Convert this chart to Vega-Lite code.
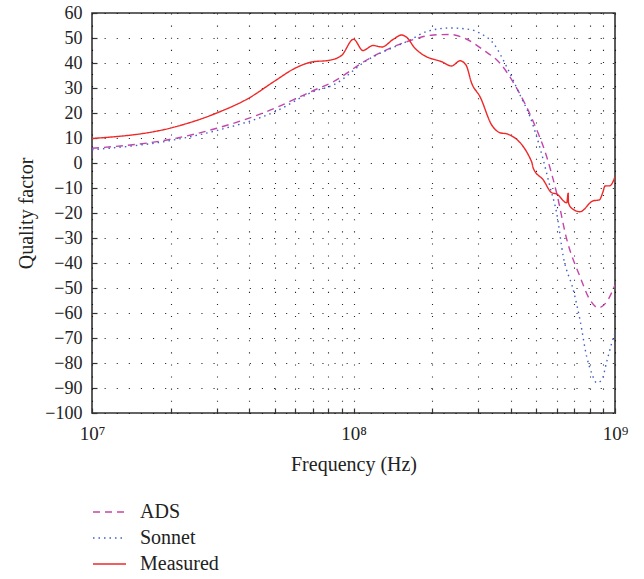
{
  "$schema": "https://vega.github.io/schema/vega-lite/v6.json",
  "width": 523,
  "height": 400,
  "autosize": {"type": "none"},
  "padding": {"left": 92, "top": 13, "right": 29, "bottom": 166},
  "background": "white",
  "config": {
    "view": {"stroke": "#333333", "strokeWidth": 1.6},
    "font": "Liberation Serif",
    "axis": {
      "labelFont": "Liberation Serif",
      "titleFont": "Liberation Serif",
      "labelFontSize": 18,
      "titleFontSize": 20,
      "titleFontWeight": "normal",
      "labelColor": "#222222",
      "titleColor": "#222222",
      "domain": false,
      "tickColor": "#333333",
      "tickWidth": 1.2,
      "tickSize": -5,
      "gridColor": "#000000",
      "gridOpacity": 0.85,
      "gridWidth": 1.1,
      "gridDash": [1.1, 11]
    }
  },
  "data": {
    "values": [
      {"f": 1e7, "q": 5.9, "s": "ADS"},
      {"f": 2e7, "q": 9.5, "s": "ADS"},
      {"f": 3e7, "q": 13.9, "s": "ADS"},
      {"f": 5e7, "q": 21.9, "s": "ADS"},
      {"f": 6.24e7, "q": 26.5, "s": "ADS"},
      {"f": 7e7, "q": 28.9, "s": "ADS"},
      {"f": 8.37e7, "q": 32.5, "s": "ADS"},
      {"f": 1.123e8, "q": 41.2, "s": "ADS"},
      {"f": 1.597e8, "q": 48.5, "s": "ADS"},
      {"f": 2.019e8, "q": 51.2, "s": "ADS"},
      {"f": 2.339e8, "q": 51.4, "s": "ADS"},
      {"f": 2.71e8, "q": 49.5, "s": "ADS"},
      {"f": 3.136e8, "q": 45.2, "s": "ADS"},
      {"f": 3.633e8, "q": 39.9, "s": "ADS"},
      {"f": 4.208e8, "q": 29.9, "s": "ADS"},
      {"f": 4.871e8, "q": 16.5, "s": "ADS"},
      {"f": 5.48e8, "q": 2.5, "s": "ADS"},
      {"f": 5.985e8, "q": -12.1, "s": "ADS"},
      {"f": 6.537e8, "q": -30.5, "s": "ADS"},
      {"f": 7.349e8, "q": -45.5, "s": "ADS"},
      {"f": 8.026e8, "q": -54.8, "s": "ADS"},
      {"f": 8.632e8, "q": -57.9, "s": "ADS"},
      {"f": 9.297e8, "q": -55.5, "s": "ADS"},
      {"f": 1e9, "q": -48.8, "s": "ADS"},

      {"f": 1e7, "q": 5.3, "s": "Sonnet"},
      {"f": 2e7, "q": 9.0, "s": "Sonnet"},
      {"f": 3e7, "q": 13.0, "s": "Sonnet"},
      {"f": 5e7, "q": 20.5, "s": "Sonnet"},
      {"f": 7e7, "q": 28.5, "s": "Sonnet"},
      {"f": 8.37e7, "q": 31.2, "s": "Sonnet"},
      {"f": 1.123e8, "q": 41.0, "s": "Sonnet"},
      {"f": 1.644e8, "q": 49.2, "s": "Sonnet"},
      {"f": 1.905e8, "q": 52.6, "s": "Sonnet"},
      {"f": 2.339e8, "q": 54.0, "s": "Sonnet"},
      {"f": 2.79e8, "q": 53.4, "s": "Sonnet"},
      {"f": 3.046e8, "q": 51.9, "s": "Sonnet"},
      {"f": 3.424e8, "q": 47.9, "s": "Sonnet"},
      {"f": 3.853e8, "q": 38.5, "s": "Sonnet"},
      {"f": 4.332e8, "q": 27.2, "s": "Sonnet"},
      {"f": 4.732e8, "q": 18.5, "s": "Sonnet"},
      {"f": 5.019e8, "q": 10.5, "s": "Sonnet"},
      {"f": 5.318e8, "q": 1.2, "s": "Sonnet"},
      {"f": 5.641e8, "q": -9.5, "s": "Sonnet"},
      {"f": 5.985e8, "q": -20.1, "s": "Sonnet"},
      {"f": 6.344e8, "q": -37.5, "s": "Sonnet"},
      {"f": 6.926e8, "q": -50.8, "s": "Sonnet"},
      {"f": 7.349e8, "q": -62.8, "s": "Sonnet"},
      {"f": 7.795e8, "q": -77.5, "s": "Sonnet"},
      {"f": 8.146e8, "q": -84.1, "s": "Sonnet"},
      {"f": 8.511e8, "q": -87.9, "s": "Sonnet"},
      {"f": 8.894e8, "q": -86.8, "s": "Sonnet"},
      {"f": 9.297e8, "q": -79.5, "s": "Sonnet"},
      {"f": 9.714e8, "q": -72.1, "s": "Sonnet"},
      {"f": 1e9, "q": -68.1, "s": "Sonnet"},

      {"f": 1e7, "q": 9.8, "s": "Measured"},
      {"f": 2e7, "q": 14.0, "s": "Measured"},
      {"f": 3e7, "q": 20.0, "s": "Measured"},
      {"f": 3.985e7, "q": 26.0, "s": "Measured"},
      {"f": 5e7, "q": 32.8, "s": "Measured"},
      {"f": 6e7, "q": 38.0, "s": "Measured"},
      {"f": 7e7, "q": 40.5, "s": "Measured"},
      {"f": 8e7, "q": 41.0, "s": "Measured"},
      {"f": 9e7, "q": 43.0, "s": "Measured"},
      {"f": 1e8, "q": 49.5, "s": "Measured"},
      {"f": 1.087e8, "q": 45.0, "s": "Measured"},
      {"f": 1.187e8, "q": 47.0, "s": "Measured"},
      {"f": 1.285e8, "q": 46.4, "s": "Measured"},
      {"f": 1.42e8, "q": 49.5, "s": "Measured"},
      {"f": 1.528e8, "q": 51.2, "s": "Measured"},
      {"f": 1.596e8, "q": 50.3, "s": "Measured"},
      {"f": 1.718e8, "q": 45.9, "s": "Measured"},
      {"f": 1.849e8, "q": 43.2, "s": "Measured"},
      {"f": 2.175e8, "q": 40.5, "s": "Measured"},
      {"f": 2.373e8, "q": 38.8, "s": "Measured"},
      {"f": 2.553e8, "q": 40.9, "s": "Measured"},
      {"f": 2.692e8, "q": 39.2, "s": "Measured"},
      {"f": 2.831e8, "q": 31.9, "s": "Measured"},
      {"f": 3.047e8, "q": 26.5, "s": "Measured"},
      {"f": 3.377e8, "q": 15.2, "s": "Measured"},
      {"f": 3.632e8, "q": 12.1, "s": "Measured"},
      {"f": 3.874e8, "q": 11.6, "s": "Measured"},
      {"f": 4.8e8, "q": 0.5, "s": "Measured"},
      {"f": 4.87e8, "q": -2.1, "s": "Measured"},
      {"f": 5.32e8, "q": -6.8, "s": "Measured"},
      {"f": 5.73e8, "q": -11.9, "s": "Measured"},
      {"f": 5.98e8, "q": -12.4, "s": "Measured"},
      {"f": 6.54e8, "q": -15.9, "s": "Measured"},
      {"f": 6.62e8, "q": -12.1, "s": "Measured"},
      {"f": 6.64e8, "q": -15.9, "s": "Measured"},
      {"f": 6.83e8, "q": -18.1, "s": "Measured"},
      {"f": 7.34e8, "q": -19.5, "s": "Measured"},
      {"f": 8.26e8, "q": -15.1, "s": "Measured"},
      {"f": 8.7e8, "q": -14.8, "s": "Measured"},
      {"f": 9.0e8, "q": -11.5, "s": "Measured"},
      {"f": 9.15e8, "q": -9.2, "s": "Measured"},
      {"f": 9.56e8, "q": -9.1, "s": "Measured"},
      {"f": 1e9, "q": -5.5, "s": "Measured"}
    ]
  },
  "mark": {"type": "line", "strokeWidth": 1.4, "interpolate": "monotone", "clip": true},
  "encoding": {
    "x": {
      "field": "f",
      "type": "quantitative",
      "scale": {"type": "log", "domain": [1e7, 1e9], "nice": false},
      "axis": {
        "title": "Frequency (Hz)",
        "values": [1e7, 2e7, 3e7, 4e7, 5e7, 6e7, 7e7, 8e7, 9e7, 1e8, 2e8, 3e8, 4e8, 5e8, 6e8, 7e8, 8e8, 9e8, 1e9],
        "labelExpr": "datum.value == 1e7 ? '10⁷' : datum.value == 1e8 ? '10⁸' : datum.value == 1e9 ? '10⁹' : ''",
        "labelPadding": 16,
        "labelFontSize": 19,
        "titlePadding": 11,
        "labelFlush": false,
        "labelOverlap": false
      }
    },
    "y": {
      "field": "q",
      "type": "quantitative",
      "scale": {"domain": [-100, 60], "nice": false},
      "axis": {
        "title": "Quality factor",
        "values": [-100, -90, -80, -70, -60, -50, -40, -30, -20, -10, 0, 10, 20, 30, 40, 50, 60],
        "labelExpr": "datum.value < 0 ? '−' + abs(datum.value) : datum.label",
        "labelPadding": 15,
        "titlePadding": 8,
        "labelFlush": false,
        "labelOverlap": false
      }
    },
    "color": {
      "field": "s",
      "type": "nominal",
      "sort": ["ADS", "Sonnet", "Measured"],
      "scale": {"domain": ["ADS", "Sonnet", "Measured"], "range": ["#c446aa", "#3f5fc8", "#ee2828"]},
      "legend": {
        "title": null,
        "orient": "none",
        "legendX": 0,
        "legendY": 486,
        "direction": "vertical",
        "padding": 0,
        "symbolType": "stroke",
        "symbolSize": 1089,
        "symbolStrokeWidth": 1.4,
        "clipHeight": 26,
        "rowPadding": 0,
        "labelOffset": 13,
        "labelFont": "Liberation Serif",
        "labelFontSize": 20,
        "labelColor": "#222222"
      }
    },
    "strokeDash": {
      "field": "s",
      "type": "nominal",
      "sort": ["ADS", "Sonnet", "Measured"],
      "scale": {"domain": ["ADS", "Sonnet", "Measured"], "range": [[7, 5], [1.5, 4], [1, 0]]},
      "legend": {
        "title": null,
        "orient": "none",
        "legendX": 0,
        "legendY": 486,
        "direction": "vertical",
        "padding": 0,
        "symbolType": "stroke",
        "symbolSize": 1089,
        "symbolStrokeWidth": 1.4,
        "clipHeight": 26,
        "rowPadding": 0,
        "labelOffset": 13,
        "labelFont": "Liberation Serif",
        "labelFontSize": 20,
        "labelColor": "#222222"
      }
    }
  }
}
